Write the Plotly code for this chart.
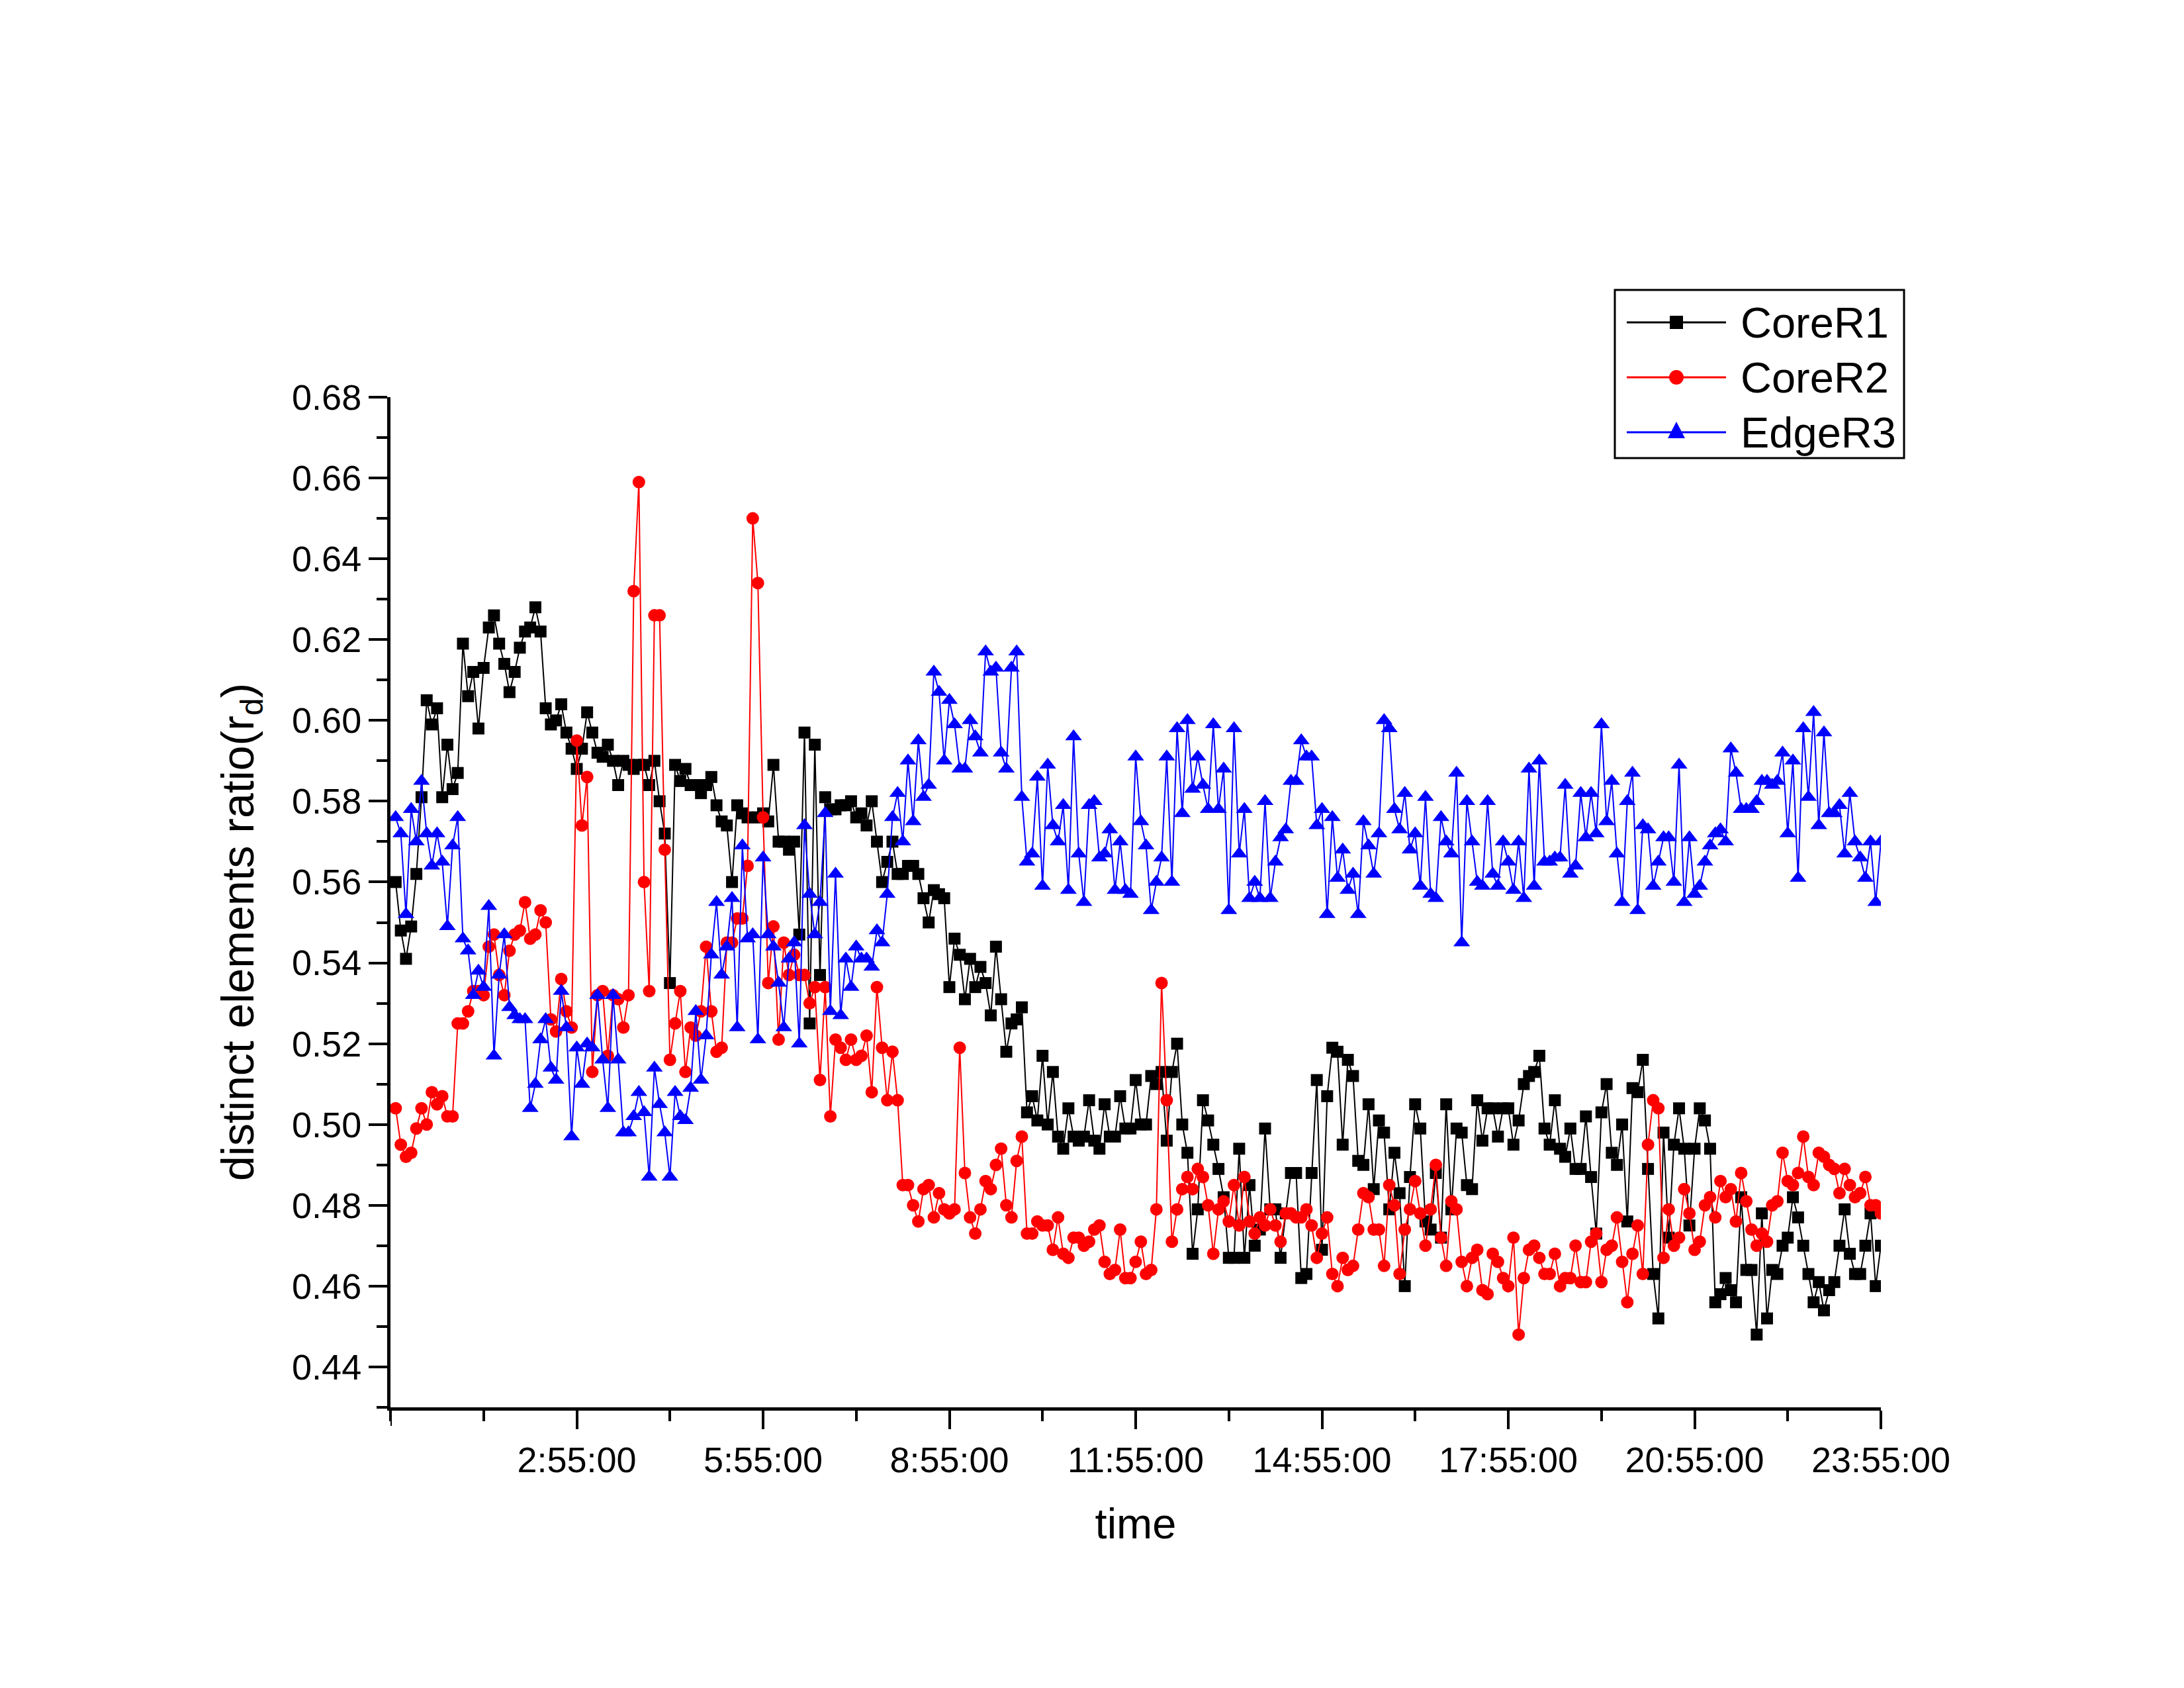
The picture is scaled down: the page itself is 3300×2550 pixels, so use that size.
import plotly.graph_objects as go

# ---------------- data ----------------
# sampling every 5 minutes from 0:00:00 to 23:55:00 (minutes since midnight)
time_minutes = [5 * i for i in range(288)]

core_r1 = [
    0.560, 0.548, 0.541, 0.549, 0.562, 0.581, 0.605, 0.599, 0.603, 0.581,
    0.594, 0.583, 0.587, 0.619, 0.606, 0.612, 0.598, 0.613, 0.623, 0.626,
    0.619, 0.614, 0.607, 0.612, 0.618, 0.622, 0.623, 0.628, 0.622, 0.603,
    0.599, 0.600, 0.604, 0.597, 0.593, 0.588, 0.593, 0.602, 0.597, 0.592,
    0.591, 0.594, 0.590, 0.584, 0.590, 0.589, 0.588, 0.589, 0.589, 0.584,
    0.590, 0.580, 0.572, 0.535, 0.589, 0.585, 0.588, 0.584, 0.584, 0.582,
    0.584, 0.586, 0.579, 0.575, 0.574, 0.560, 0.579, 0.577, 0.576, 0.576,
    0.576, 0.577, 0.575, 0.589, 0.570, 0.570, 0.568, 0.570, 0.547, 0.597,
    0.525, 0.594, 0.537, 0.581, 0.578, 0.578, 0.579, 0.579, 0.580, 0.576,
    0.577, 0.574, 0.580, 0.570, 0.560, 0.565, 0.570, 0.562, 0.562, 0.564,
    0.564, 0.562, 0.556, 0.550, 0.558, 0.557, 0.556, 0.534, 0.546, 0.542,
    0.531, 0.541, 0.534, 0.539, 0.535, 0.527, 0.544, 0.531, 0.518, 0.525,
    0.526, 0.529, 0.503, 0.507, 0.501, 0.517, 0.500, 0.513, 0.497, 0.494,
    0.504, 0.497, 0.496, 0.497, 0.506, 0.496, 0.494, 0.505, 0.497, 0.497,
    0.507, 0.499, 0.499, 0.511, 0.500, 0.500, 0.512, 0.510, 0.513, 0.496,
    0.513, 0.520, 0.500, 0.493, 0.468, 0.479, 0.506, 0.501, 0.495, 0.489,
    0.482, 0.467, 0.467, 0.494, 0.467, 0.485, 0.470, 0.474, 0.499, 0.479,
    0.479, 0.467, 0.478, 0.488, 0.488, 0.462, 0.463, 0.488, 0.511, 0.469,
    0.507, 0.519, 0.518, 0.495, 0.516, 0.512, 0.491, 0.490, 0.505, 0.484,
    0.501, 0.498, 0.479, 0.493, 0.483, 0.460, 0.487, 0.505, 0.499, 0.476,
    0.474, 0.488, 0.472, 0.505, 0.479, 0.499, 0.498, 0.485, 0.484, 0.506,
    0.496, 0.504, 0.504, 0.497, 0.504, 0.504, 0.495, 0.501, 0.510, 0.512,
    0.513, 0.517, 0.499, 0.495, 0.506, 0.494, 0.492, 0.499, 0.489, 0.489,
    0.502, 0.487, 0.473, 0.503, 0.510, 0.493, 0.490, 0.500, 0.476, 0.509,
    0.508, 0.516, 0.489, 0.463, 0.452, 0.498, 0.472, 0.495, 0.504, 0.494,
    0.475, 0.494, 0.504, 0.501, 0.494, 0.456, 0.458, 0.462, 0.459, 0.456,
    0.482, 0.464, 0.464, 0.448, 0.478, 0.452, 0.464, 0.463, 0.470, 0.472,
    0.482, 0.477, 0.470, 0.463, 0.456, 0.461, 0.454, 0.459, 0.461, 0.470,
    0.479, 0.468, 0.463, 0.463, 0.470, 0.478, 0.460, 0.470,
]

core_r2 = [
    0.504, 0.495, 0.492, 0.493, 0.499, 0.504, 0.500, 0.508, 0.505, 0.507,
    0.502, 0.502, 0.525, 0.525, 0.528, 0.533, 0.533, 0.532, 0.544, 0.547,
    0.537, 0.532, 0.543, 0.547, 0.548, 0.555, 0.546, 0.547, 0.553, 0.550,
    0.526, 0.523, 0.536, 0.528, 0.524, 0.595, 0.574, 0.586, 0.513, 0.532,
    0.533, 0.517, 0.532, 0.531, 0.524, 0.532, 0.632, 0.659, 0.560, 0.533,
    0.626, 0.626, 0.568, 0.516, 0.525, 0.533, 0.513, 0.524, 0.522, 0.528,
    0.544, 0.528, 0.518, 0.519, 0.545, 0.545, 0.551, 0.551, 0.564, 0.650,
    0.634, 0.576, 0.535, 0.549, 0.521, 0.545, 0.537, 0.542, 0.537, 0.537,
    0.530, 0.534, 0.511, 0.534, 0.502, 0.521, 0.519, 0.516, 0.521, 0.516,
    0.517, 0.522, 0.508, 0.534, 0.519, 0.506, 0.518, 0.506, 0.485, 0.485,
    0.480, 0.476, 0.484, 0.485, 0.477, 0.483, 0.479, 0.478, 0.479, 0.519,
    0.488, 0.477, 0.473, 0.479, 0.486, 0.484, 0.490, 0.494, 0.480, 0.477,
    0.491, 0.497, 0.473, 0.473, 0.476, 0.475, 0.475, 0.469, 0.477, 0.468,
    0.467, 0.472, 0.472, 0.470, 0.471, 0.474, 0.475, 0.466, 0.463, 0.464,
    0.474, 0.462, 0.462, 0.466, 0.471, 0.463, 0.464, 0.479, 0.535, 0.506,
    0.471, 0.479, 0.484, 0.487, 0.484, 0.489, 0.487, 0.480, 0.468, 0.479,
    0.481, 0.476, 0.485, 0.475, 0.487, 0.476, 0.473, 0.477, 0.475, 0.479,
    0.475, 0.471, 0.478, 0.478, 0.477, 0.477, 0.479, 0.475, 0.467, 0.473,
    0.477, 0.463, 0.460, 0.467, 0.464, 0.465, 0.474, 0.483, 0.482, 0.474,
    0.474, 0.465, 0.485, 0.480, 0.463, 0.474, 0.479, 0.486, 0.478, 0.470,
    0.479, 0.490, 0.472, 0.465, 0.481, 0.479, 0.466, 0.460, 0.467, 0.469,
    0.459, 0.458, 0.468, 0.466, 0.462, 0.460, 0.472, 0.448, 0.462, 0.469,
    0.470, 0.467, 0.463, 0.463, 0.468, 0.460, 0.462, 0.462, 0.470, 0.461,
    0.461, 0.471, 0.473, 0.461, 0.469, 0.470, 0.477, 0.466, 0.456, 0.468,
    0.475, 0.463, 0.495, 0.506, 0.504, 0.467, 0.479, 0.470, 0.472, 0.484,
    0.478, 0.469, 0.471, 0.480, 0.482, 0.477, 0.486, 0.482, 0.484, 0.476,
    0.488, 0.481, 0.474, 0.470, 0.473, 0.471, 0.480, 0.481, 0.493, 0.486,
    0.485, 0.488, 0.497, 0.487, 0.485, 0.493, 0.492, 0.490, 0.489, 0.483,
    0.489, 0.485, 0.482, 0.483, 0.487, 0.480, 0.480, 0.478,
]

edge_r3 = [
    0.576, 0.572, 0.552, 0.578, 0.570, 0.585, 0.572, 0.564, 0.572, 0.565,
    0.549, 0.569, 0.576, 0.546, 0.543, 0.532, 0.538, 0.534, 0.554, 0.517,
    0.537, 0.547, 0.529, 0.527, 0.526, 0.526, 0.504, 0.510, 0.521, 0.526,
    0.514, 0.511, 0.533, 0.524, 0.497, 0.519, 0.510, 0.520, 0.519, 0.532,
    0.516, 0.504, 0.532, 0.516, 0.498, 0.498, 0.502, 0.508, 0.503, 0.487,
    0.514, 0.505, 0.498, 0.487, 0.508, 0.502, 0.501, 0.509, 0.528, 0.511,
    0.522, 0.542, 0.555, 0.537, 0.544, 0.556, 0.524, 0.569, 0.546, 0.547,
    0.521, 0.566, 0.547, 0.544, 0.535, 0.524, 0.541, 0.545, 0.520, 0.574,
    0.557, 0.547, 0.555, 0.577, 0.528, 0.562, 0.527, 0.541, 0.534, 0.544,
    0.541, 0.541, 0.539, 0.548, 0.545, 0.557, 0.576, 0.582, 0.570, 0.590,
    0.575, 0.595, 0.581, 0.584, 0.612, 0.607, 0.590, 0.605, 0.599, 0.588,
    0.588, 0.600, 0.596, 0.592, 0.617, 0.612, 0.613, 0.592, 0.588, 0.613,
    0.617, 0.581, 0.565, 0.567, 0.586, 0.559, 0.589, 0.574, 0.570, 0.579,
    0.558, 0.596, 0.567, 0.555, 0.579, 0.580, 0.566, 0.567, 0.573, 0.558,
    0.570, 0.558, 0.557, 0.591, 0.575, 0.569, 0.553, 0.560, 0.566, 0.591,
    0.560, 0.598, 0.577, 0.600, 0.583, 0.591, 0.584, 0.578, 0.599, 0.578,
    0.588, 0.553, 0.598, 0.567, 0.578, 0.556, 0.560, 0.556, 0.580, 0.556,
    0.565, 0.571, 0.573, 0.585, 0.585, 0.595, 0.591, 0.591, 0.574, 0.578,
    0.552, 0.576, 0.561, 0.568, 0.558, 0.562, 0.552, 0.575, 0.569, 0.562,
    0.572, 0.600, 0.598, 0.578, 0.573, 0.582, 0.568, 0.572, 0.559, 0.581,
    0.557, 0.556, 0.576, 0.570, 0.567, 0.587, 0.545, 0.580, 0.570, 0.560,
    0.559, 0.580, 0.562, 0.559, 0.570, 0.565, 0.558, 0.570, 0.556, 0.588,
    0.559, 0.590, 0.565, 0.565, 0.566, 0.566, 0.584, 0.562, 0.564, 0.582,
    0.571, 0.582, 0.572, 0.599, 0.575, 0.585, 0.567, 0.555, 0.580, 0.587,
    0.553, 0.574, 0.573, 0.559, 0.565, 0.571, 0.571, 0.560, 0.589, 0.555,
    0.571, 0.557, 0.559, 0.565, 0.569, 0.572, 0.573, 0.570, 0.593, 0.587,
    0.578, 0.578, 0.578, 0.580, 0.585, 0.585, 0.584, 0.585, 0.592, 0.572,
    0.590, 0.561, 0.598, 0.581, 0.602, 0.574, 0.597, 0.577, 0.577, 0.579,
    0.567, 0.582, 0.570, 0.566, 0.561, 0.570, 0.555, 0.570,
]

series_names = ["CoreR1", "CoreR2", "EdgeR3"]
series_colors = ["#000000", "#FF0000", "#0000FF"]
series_symbols = ["square", "circle", "triangle-up"]

x_tick_vals = [175, 355, 535, 715, 895, 1075, 1255, 1435]
x_tick_text = ["2:55:00", "5:55:00", "8:55:00", "11:55:00",
               "14:55:00", "17:55:00", "20:55:00", "23:55:00"]
x_axis_start = -5
y_tick_vals = [0.44, 0.46, 0.48, 0.50, 0.52, 0.54, 0.56, 0.58, 0.60,
               0.62, 0.64, 0.66, 0.68]
y_tick_text = ["0.44", "0.46", "0.48", "0.50", "0.52", "0.54", "0.56",
               "0.58", "0.60", "0.62", "0.64", "0.66", "0.68"]

# ---------------- figure ----------------
W, H = 3300, 2550
OFF = 8  # page body margin of the browser
ML, MR, MT, MB = 582, 466, 592, 432
PW, PH = W - ML - MR, H - MT - MB
FONT = "Liberation Sans, Arial, sans-serif"

fig = go.Figure()
marker_sizes = [18, 19, 22]
for name, ys, col, sym, ms in zip(series_names, [core_r1, core_r2, edge_r3],
                                  series_colors, series_symbols, marker_sizes):
    fig.add_trace(go.Scatter(
        x=time_minutes, y=ys, name=name, mode="lines+markers",
        line=dict(color=col, width=2),
        marker=dict(symbol=sym, size=ms, color=col, line=dict(width=0)),
        showlegend=False,
    ))


def px_to_paper(px, py):
    """screen pixel -> paper fraction"""
    return (px - OFF - ML) / PW, (H - MB - (py - OFF)) / PH


shapes = []
annotations = []

# major tick at the left end of the time axis (unlabelled in the original)
shapes.append(dict(type="line", xref="x", yref="paper",
                   x0=x_axis_start, x1=x_axis_start, y0=0, y1=-28 / PH,
                   line=dict(color="black", width=4)))

# ---- legend box (Origin style, long line samples) ----
bx0, by0 = px_to_paper(2440, 692)
bx1, by1 = px_to_paper(2877, 438)
shapes.append(dict(type="rect", xref="paper", yref="paper",
                   x0=bx0, y0=by0, x1=bx1, y1=by1,
                   line=dict(color="black", width=3), fillcolor="white",
                   layer="above"))
row_y = [487, 570, 653]
for k, (name, col, sym) in enumerate(zip(series_names, series_colors, series_symbols)):
    ry = row_y[k]
    lx0, ly = px_to_paper(2458, ry)
    lx1, _ = px_to_paper(2608, ry)
    shapes.append(dict(type="line", xref="paper", yref="paper",
                       x0=lx0, y0=ly, x1=lx1, y1=ly,
                       line=dict(color=col, width=3), layer="above"))
    cx = 2533
    if sym == "square":
        a0 = px_to_paper(cx - 10, ry + 10)
        a1 = px_to_paper(cx + 10, ry - 10)
        shapes.append(dict(type="rect", xref="paper", yref="paper",
                           x0=a0[0], y0=a0[1], x1=a1[0], y1=a1[1],
                           line=dict(width=0), fillcolor=col, layer="above"))
    elif sym == "circle":
        a0 = px_to_paper(cx - 11, ry + 11)
        a1 = px_to_paper(cx + 11, ry - 11)
        shapes.append(dict(type="circle", xref="paper", yref="paper",
                           x0=a0[0], y0=a0[1], x1=a1[0], y1=a1[1],
                           line=dict(width=0), fillcolor=col, layer="above"))
    else:
        p1 = px_to_paper(cx - 13, ry + 9)
        p2 = px_to_paper(cx + 13, ry + 9)
        p3 = px_to_paper(cx, ry - 16)
        path = "M {:.5f},{:.5f} L {:.5f},{:.5f} L {:.5f},{:.5f} Z".format(
            p1[0], p1[1], p2[0], p2[1], p3[0], p3[1])
        shapes.append(dict(type="path", xref="paper", yref="paper", path=path,
                           line=dict(width=0), fillcolor=col, layer="above"))
    tx, ty = px_to_paper(2628, ry)
    annotations.append(dict(xref="paper", yref="paper", x=tx, y=ty,
                            text=name, showarrow=False, xanchor="left",
                            yanchor="middle",
                            font=dict(family=FONT, size=65, color="black")))

# y-axis title (placed like the original, slightly below the axis centre)
tx, ty = px_to_paper(364, 1408)
annotations.append(dict(xref="paper", yref="paper", x=tx, y=ty,
                        text="distinct elements ratio(r<sub>d</sub>)",
                        textangle=-90, showarrow=False,
                        xanchor="center", yanchor="middle",
                        font=dict(family=FONT, size=68, color="black")))

fig.update_layout(
    width=W, height=H, autosize=False,
    margin=dict(l=ML, r=MR, t=MT, b=MB),
    paper_bgcolor="white", plot_bgcolor="white",
    font=dict(family=FONT, color="black"),
    shapes=shapes, annotations=annotations,
    showlegend=False,
)

fig.update_xaxes(
    range=[x_axis_start, 1435], showgrid=False, zeroline=False,
    showline=True, linecolor="black", linewidth=5,
    ticks="outside", ticklen=28, tickwidth=4, tickcolor="black",
    tickmode="array", tickvals=x_tick_vals, ticktext=x_tick_text,
    tickfont=dict(family=FONT, size=54, color="black"),
    minor=dict(tickmode="linear", tick0=x_axis_start, dtick=90, ticks="outside",
               ticklen=16, tickwidth=4, tickcolor="black", showgrid=False),
    title=dict(text="time", font=dict(family=FONT, size=65, color="black"),
               standoff=46),
)
fig.update_yaxes(
    range=[0.43, 0.68], showgrid=False, zeroline=False,
    showline=True, linecolor="black", linewidth=5,
    ticks="outside", ticklen=28, tickwidth=4, tickcolor="black",
    tickmode="array", tickvals=y_tick_vals, ticktext=y_tick_text,
    tickfont=dict(family=FONT, size=54, color="black"),
    minor=dict(tickmode="linear", tick0=0.43, dtick=0.01, ticks="outside",
               ticklen=16, tickwidth=4, tickcolor="black", showgrid=False),
)

fig.write_html("out.html")
